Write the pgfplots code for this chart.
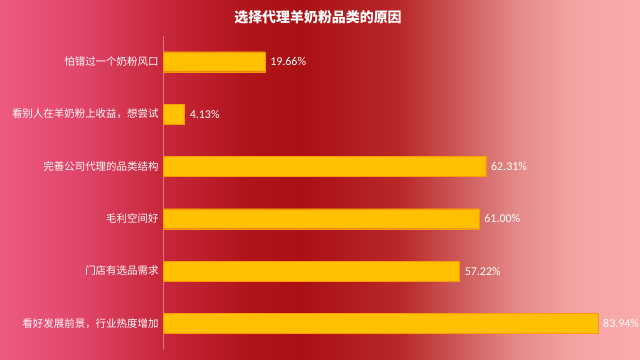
\documentclass[border=0pt]{standalone}
\usepackage{pgfplots}
\pgfplotsset{compat=1.18}
\usepackage{fontspec}
\setmainfont{Carlito}
\newfontfamily\cjk{Noto Sans CJK SC}
\definecolor{barc}{HTML}{FFC000}
\definecolor{c0}{RGB}{238,90,128}
\definecolor{c1}{RGB}{225,70,105}
\definecolor{c2}{RGB}{200,40,60}
\definecolor{c3}{RGB}{175,20,25}
\definecolor{c4}{RGB}{170,16,20}
\definecolor{c5}{RGB}{185,40,40}
\definecolor{c6}{RGB}{205,90,90}
\definecolor{c7}{RGB}{230,140,140}
\definecolor{c8}{RGB}{245,165,165}
\definecolor{c9}{RGB}{250,170,170}
\pgfdeclarehorizontalshading{bgshade}{100bp}{color(0bp)=(c0); color(25bp)=(c0); color(31.25bp)=(c1); color(37.5bp)=(c2); color(44.53bp)=(c3); color(48.44bp)=(c4); color(56.25bp)=(c5); color(60.94bp)=(c6); color(65.63bp)=(c7); color(70.31bp)=(c8); color(75bp)=(c9); color(100bp)=(c9)}
\begin{document}
\begin{tikzpicture}
\useasboundingbox (0,0) rectangle (640bp,360bp);
\shade[shading=bgshade] (0,0) rectangle (640bp,360bp);
\node[text=white, font=\cjk\bfseries\fontsize{14}{16}\selectfont] at (318bp,343bp) {选择代理羊奶粉品类的原因};
\begin{axis}[
  at={(163bp,10.5bp)}, anchor=south west,
  scale only axis, width=477bp, height=314bp,
  xmin=0, xmax=92.1, ymin=-0.5, ymax=5.5,
  axis x line=none,
  axis y line*=left,
  y axis line style={white, opacity=0.35, line width=0.5pt, -},
  ytick={0,1,2,3,4,5},
  yticklabels={看好发展前景，行业热度增加, 门店有选品需求, 毛利空间好, 完善公司代理的品类结构, 看别人在羊奶粉上收益，想尝试, 怕错过一个奶粉风口},
  yticklabel style={font=\cjk\fontsize{10.5}{12}\selectfont, text=white, xshift=-1bp},
  major tick length=0pt,
  xbar, bar width=20bp, bar shift=0pt,
  /pgf/number format/assume math mode=true,
  nodes near coords={\pgfmathprintnumber[fixed,fixed zerofill,precision=2,assume math mode=true]{\pgfplotspointmeta}\%},
  nodes near coords style={font=\fontsize{12}{14}\selectfont, text=white, xshift=2bp},
  point meta=x,
  clip=false,
]
\addplot[fill=barc, draw=orange!60!barc, line width=0.3pt] coordinates {
(83.94,0) (57.22,1) (61.00,2) (62.31,3) (4.13,4) (19.66,5)};
\end{axis}
\end{tikzpicture}
\end{document}
